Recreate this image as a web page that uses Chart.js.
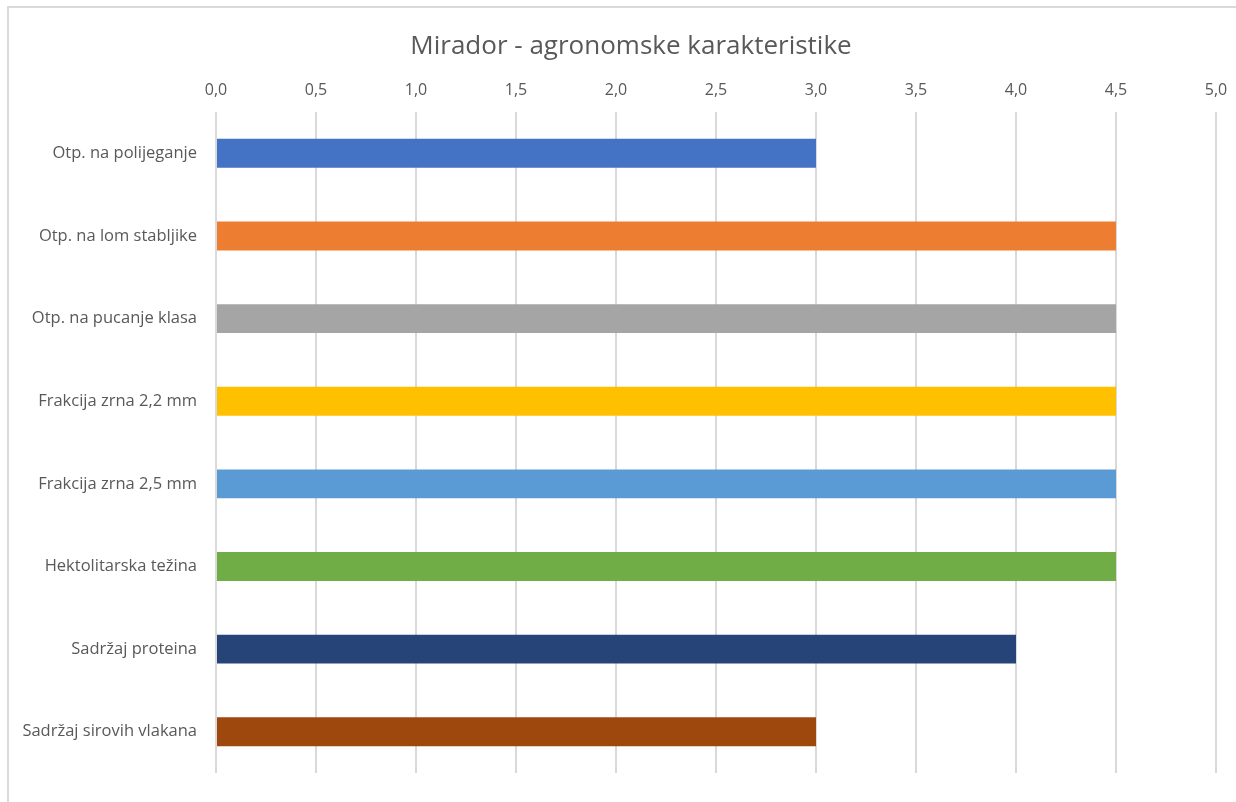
<!DOCTYPE html>
<html>
<head>
<meta charset="utf-8">
<script src="https://cdn.jsdelivr.net/npm/chart.js@4/dist/chart.umd.min.js"></script>
<style>
  html, body { margin: 0; padding: 0; background: #ffffff; overflow: hidden; }
  #wrap { position: relative; width: 1236px; height: 802px; }
  #frame { position: absolute; left: 7px; top: 6px; width: 1300px; height: 900px; border: 2px solid #d9d9d9; box-sizing: border-box; }
  canvas { position: absolute; left: 0; top: 0; }
</style>
</head>
<body>
<div id="wrap">
  <div id="frame"></div>
  <canvas id="c" width="1236" height="802"></canvas>
</div>
<script>
const chartTitle = "Mirador - agronomske karakteristike";
const categories = [
  "Otp. na polijeganje",
  "Otp. na lom stabljike",
  "Otp. na pucanje klasa",
  "Frakcija zrna 2,2 mm",
  "Frakcija zrna 2,5 mm",
  "Hektolitarska težina",
  "Sadržaj proteina",
  "Sadržaj sirovih vlakana"
];
const values = [3.0, 4.5, 4.5, 4.5, 4.5, 4.5, 4.0, 3.0];
const barColors = ["#4472C4", "#ED7D31", "#A5A5A5", "#FFC000", "#5B9BD5", "#70AD47", "#264478", "#9E480E"];
const axisMin = 0, axisMax = 5, axisStep = 0.5;

const fontFamily = "'Open Sans', 'Liberation Sans', sans-serif";

// Title drawn centred over the chart frame (Excel-style), not over the canvas
const offsetTitle = {
  id: 'offsetTitle',
  afterDraw(chart) {
    const ctx = chart.ctx;
    ctx.save();
    ctx.font = "normal 26px " + fontFamily;
    ctx.fillStyle = '#595959';
    ctx.textAlign = 'center';
    ctx.textBaseline = 'middle';
    ctx.fillText(chartTitle, 631, 47);
    ctx.restore();
  }
};

new Chart(document.getElementById('c'), {
  type: 'bar',
  data: {
    labels: categories,
    datasets: [{
      data: values,
      backgroundColor: barColors,
      borderWidth: 0,
      barPercentage: 0.35,
      categoryPercentage: 1.0
    }]
  },
  options: {
    indexAxis: 'y',
    responsive: false,
    animation: false,
    devicePixelRatio: 1,
    layout: { padding: { left: 0, right: 20, top: 0, bottom: 20 } },
    plugins: {
      legend: { display: false },
      tooltip: { enabled: false },
      title: { display: false }
    },
    scales: {
      x: {
        position: 'top',
        min: axisMin,
        max: axisMax,
        afterFit: (s) => { s.height = 112; s.paddingRight = 0; s.paddingLeft = 0; },
        ticks: {
          stepSize: axisStep,
          color: '#595959',
          font: { family: fontFamily, size: 16 },
          padding: 12,
          callback: (v) => Number(v).toFixed(1).replace('.', ',')
        },
        grid: { color: '#d9d9d9', lineWidth: 2, drawTicks: false },
        border: { display: false }
      },
      y: {
        afterFit: (s) => { s.width = 216; },
        ticks: {
          color: '#595959',
          font: { family: fontFamily, size: 16.5 },
          padding: 19
        },
        grid: { display: false, drawTicks: false },
        border: { display: false }
      }
    }
  },
  plugins: [offsetTitle]
});
</script>
</body>
</html>
